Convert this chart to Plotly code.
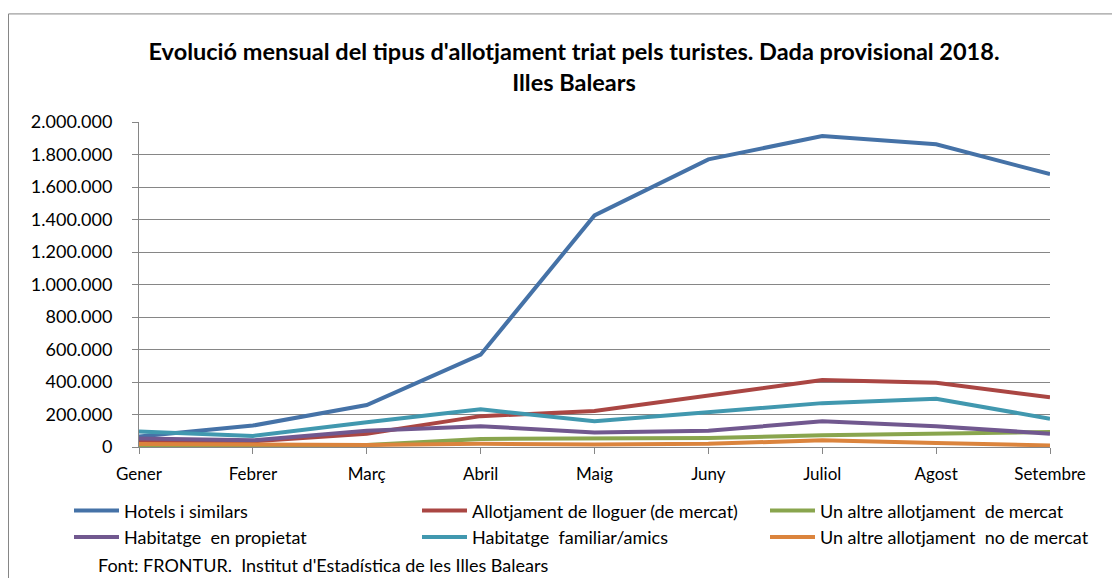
import plotly.graph_objects as go

months = ["Gener", "Febrer", "Març", "Abril", "Maig", "Juny", "Juliol", "Agost", "Setembre"]

hotels = [65000, 132000, 258000, 568000, 1425000, 1770000, 1914000, 1863000, 1679000]
lloguer = [35000, 35000, 82000, 190000, 221000, 318000, 412000, 395000, 306000]
altre_mercat = [8000, 8000, 12000, 50000, 50000, 56000, 72000, 82000, 92000]
propietat = [52000, 41000, 100000, 128000, 90000, 100000, 158000, 127000, 82000]
familiar = [96000, 68000, 152000, 232000, 158000, 212000, 270000, 297000, 174000]
altre_no_mercat = [18000, 15000, 13000, 20000, 15000, 20000, 41000, 24000, 10000]

series = [
    ("Hotels i similars", hotels, "#4572A7"),
    ("Allotjament de lloguer (de mercat)", lloguer, "#AA4643"),
    ("Un altre allotjament  de mercat", altre_mercat, "#89A54E"),
    ("Habitatge  en propietat", propietat, "#71588F"),
    ("Habitatge  familiar/amics", familiar, "#4198AF"),
    ("Un altre allotjament  no de mercat", altre_no_mercat, "#DB843D"),
]

FONT = "Lato"
OFF = 8  # page body margin
W, H = 1112, 570
L, R, T, B = 131, 70, 114, 131.25
PW, PH = W - L - R, H - T - B


def px(x_img):
    return (x_img - OFF - L) / PW


def py(y_img):
    return (H - B - (y_img - OFF)) / PH


fig = go.Figure()
for name, vals, col in series:
    fig.add_trace(go.Scatter(x=months, y=vals, name=name, mode="lines",
                             line=dict(color=col, width=4)))

fig.update_layout(
    width=W, height=H,
    margin=dict(l=L, r=R, t=T, b=B, autoexpand=False),
    paper_bgcolor="white", plot_bgcolor="white",
    separators=",.",
    font=dict(family=FONT, color="black", size=17),
    title=dict(
        text="<b>Evolució mensual del tipus d'allotjament triat pels turistes. Dada provisional 2018.<br>Illes Balears</b>",
        x=566 / W, xanchor="center", y=1 - 52 / H, yanchor="top",
        font=dict(family=FONT, size=23.5, color="black"),
    ),
    xaxis=dict(
        type="category", range=[0, len(months) - 1],
        showline=True, linecolor="#868686", linewidth=1,
        ticks="outside", ticklen=6, tickcolor="#868686",
        showgrid=False, zeroline=False,
        ticklabelstandoff=6,
    ),
    yaxis=dict(
        range=[0, 2000000], dtick=200000, tickformat=",d",
        showline=True, linecolor="#868686", linewidth=1,
        ticks="outside", ticklen=6, tickcolor="#868686",
        showgrid=True, gridcolor="#868686", gridwidth=1,
        zeroline=False, ticklabelstandoff=16,
        tickfont=dict(size=18),
    ),
    legend=dict(
        orientation="h", entrywidth=288, entrywidthmode="pixels",
        x=px(69), xanchor="left", y=py(492), yanchor="top",
        font=dict(family=FONT, size=18), itemwidth=45,
        tracegroupgap=0,
    ),
    showlegend=True,
)

fig.add_annotation(
    text="Font: FRONTUR.  Institut d'Estadística de les Illes Balears",
    xref="paper", yref="paper", x=px(96), y=py(565),
    xanchor="left", yanchor="middle", showarrow=False,
    font=dict(family=FONT, size=18, color="black"),
)

fig.add_shape(type="rect", xref="paper", yref="paper",
              x0=px(8.5), x1=px(1116), y0=py(600), y1=py(14),
              line=dict(color="#868686", width=1), fillcolor="rgba(0,0,0,0)",
              layer="below")

fig.write_html("out.html")
